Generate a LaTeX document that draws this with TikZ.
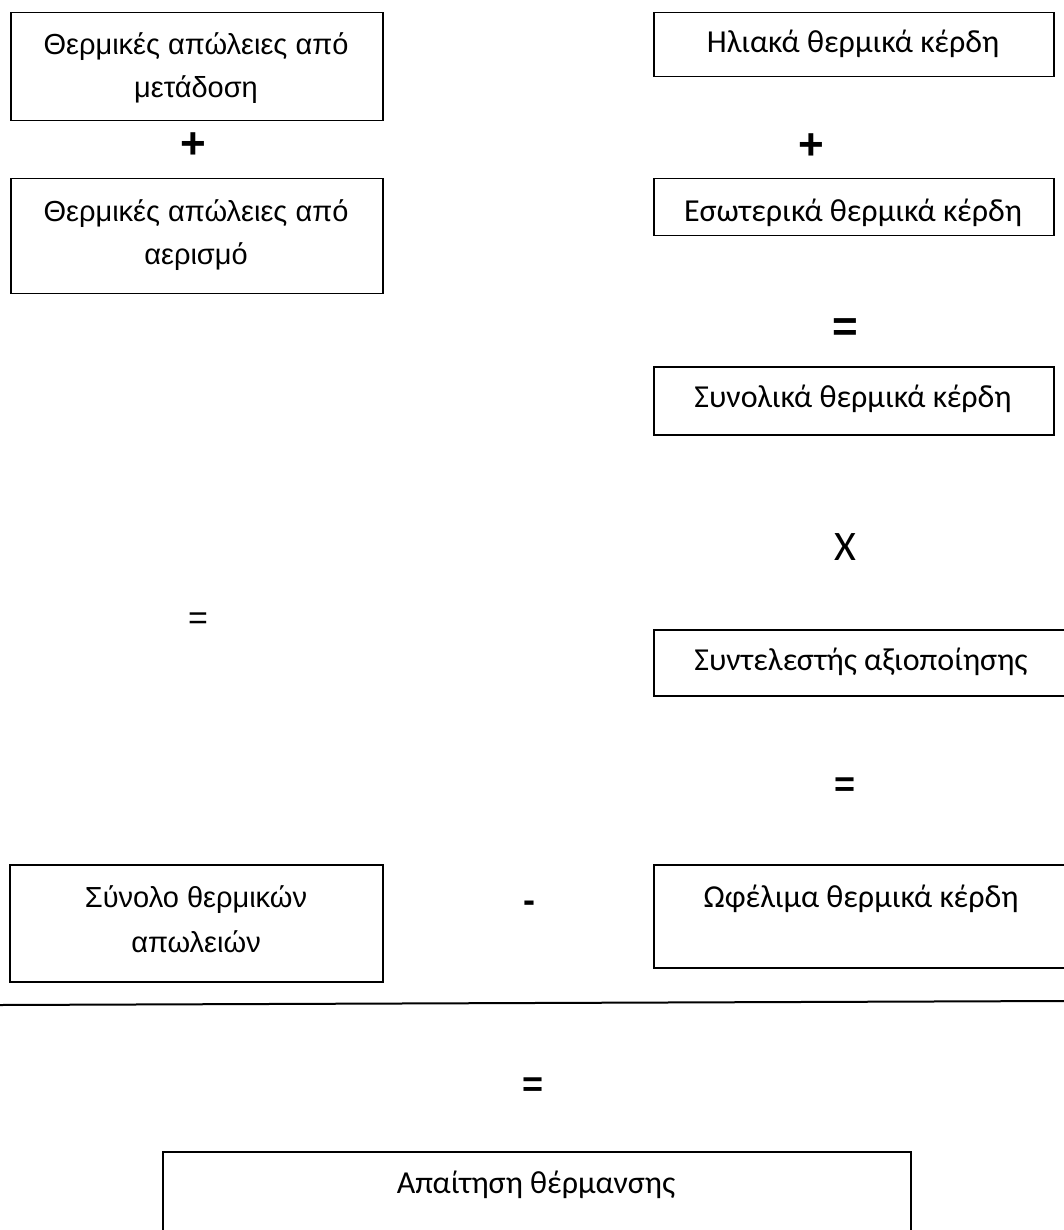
\documentclass[tikz,border=0pt]{standalone}
\usepackage{fontspec}
\setmainfont{Liberation Sans}
\newfontfamily\calfont{Carlito}
\begin{document}
\begin{tikzpicture}[x=1pt,y=-1pt,
  box/.style={draw, line width=1.5pt, rectangle, inner sep=0pt, anchor=north west},
  ltext/.style={anchor=base, inner sep=0pt, font=\fontsize{29}{32}\selectfont},
  rtext/.style={anchor=base, inner sep=0pt, font=\calfont\fontsize{32}{36}\selectfont},
  opbold/.style={anchor=center, inner sep=0pt, font=\bfseries\fontsize{44}{44}\selectfont},
  opthin/.style={anchor=center, inner sep=0pt, font=\fontsize{34}{34}\selectfont},
  opmid/.style={anchor=center, inner sep=0pt, font=\bfseries\fontsize{36}{36}\selectfont}]
\useasboundingbox (0,0) rectangle (1064,1230);
\fill[white] (0,0) rectangle (1064,1230);

% left column
\node[box, minimum width=372, minimum height=108] (l1) at (10,12) {};
\node[ltext] (l1a) at (196,55) {Θερμικές απώλειες από};
\node[ltext] (l1b) at (196,98) {μετάδοση};
\node[opbold] (plusl) at (193,146) {+};
\node[box, minimum width=372, minimum height=115] (l2) at (10,178) {};
\node[ltext] (l2a) at (196,222) {Θερμικές απώλειες από};
\node[ltext] (l2b) at (196,265) {αερισμό};
\node[opthin] (eql) at (198,621) {=};
\node[box, minimum width=373, minimum height=117] (l3) at (9,864) {};
\node[ltext] (l3a) at (196,907) {Σύνολο θερμικών};
\node[ltext] (l3b) at (196,952) {απωλειών};

% right column
\node[box, minimum width=400, minimum height=64] (r1) at (653,12) {};
\node[rtext] (r1t) at (853,53) {Ηλιακά θερμικά κέρδη};
\node[opbold] (plusr) at (811,147) {+};
\node[box, minimum width=400, minimum height=57] (r2) at (653,178) {};
\node[rtext] (r2t) at (853,222) {Εσωτερικά θερμικά κέρδη};
\node[opbold] (eqr1) at (845,330) {=};
\node[box, minimum width=400, minimum height=68] (r3) at (653,366) {};
\node[rtext] (r3t) at (853,407) {Συνολικά θερμικά κέρδη};
\node[anchor=center, inner sep=0pt, font=\calfont\fontsize{42}{42}\selectfont] (times) at (845,547) {X};
\node[box, minimum width=416, minimum height=66] (r4) at (653,629) {};
\node[rtext] (r4t) at (861,670) {Συντελεστής αξιοποίησης};
\node[opmid] (eqr2) at (845,787) {=};
\node[box, minimum width=416, minimum height=103] (r5) at (653,864) {};
\node[rtext] (r5t) at (861,907) {Ωφέλιμα θερμικά κέρδη};

% middle
\node[opmid] (minus) at (529,907) {-};
\coordinate (sepL) at (0,1005);
\coordinate (sepR) at (1064,1001);
\draw[line width=2pt] (sepL) -- (sepR);
\node[opmid] (eqb) at (533,1087) {=};
\node[box, minimum width=748, minimum height=100] (res) at (162,1151) {};
\node[rtext] (rest) at (536,1193) {Απαίτηση θέρμανσης};
\end{tikzpicture}
\end{document}
